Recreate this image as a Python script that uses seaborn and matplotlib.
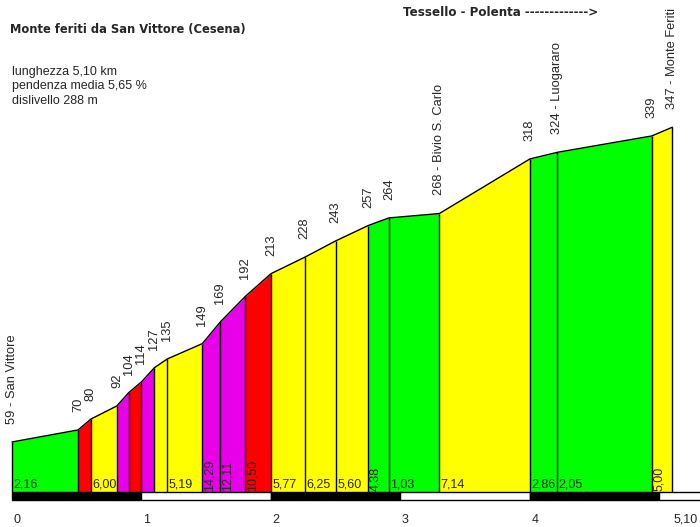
import numpy as np
import pandas as pd
import matplotlib
matplotlib.use("Agg")
import matplotlib.pyplot as plt
import seaborn as sns

# profile points: km from start, altitude (m), place name
km = [0, 0.51, 0.61, 0.81, 0.90, 1.00, 1.10, 1.20, 1.47, 1.61, 1.80, 2.00,
      2.26, 2.50, 2.75, 2.91, 3.30, 4.00, 4.21, 4.94, 5.10]
alt = [59, 70, 80, 92, 104, 114, 127, 135, 149, 169, 192, 213,
       228, 243, 257, 264, 268, 318, 324, 339, 347]
names = ["San Vittore", "", "", "", "", "", "", "", "", "", "", "",
         "", "", "", "", "Bivio S. Carlo", "", "Luogararo", "", "Monte Feriti"]
# gradient (%) of each segment
grade = [2.16, 10.0, 6.00, 13.3, 10.0, 13.0, 8.0, 5.19, 14.29, 12.11, 10.50,
         5.77, 6.25, 5.60, 4.38, 1.03, 7.14, 2.86, 2.05, 5.00]
km_ticks = [0, 1, 2, 3, 4, 5.10]
km_labels = ["0", "1", "2", "3", "4", "5,10"]

title = "Monte feriti da San Vittore (Cesena)"
info = ["lunghezza 5,10 km", "pendenza media 5,65 %", "dislivello 288 m"]
route = "Tessello - Polenta ------------->"

sns.set_theme(style="white")
plt.rcParams['font.family'] = ['Liberation Sans', 'DejaVu Sans']

df = pd.DataFrame({"km": km, "alt": alt})

fig = plt.figure(figsize=(7, 5.27), dpi=100)
ax = fig.add_axes([0, 0, 1, 1])
ax.set_xlim(-0.0927, 5.313)
ax.set_ylim(-18.8, 463.4)
ax.axis("off")

base = 13.3


def colour(g):
    if g < 5:
        return "#00ff00"
    if g < 10:
        return "#ffff00"
    if g < 12:
        return "#ff0000"
    return "#e800e8"


for i, g in enumerate(grade):
    x0, x1 = km[i], km[i + 1]
    ax.fill_between([x0, x1], [alt[i], alt[i + 1]], base, color=colour(g), lw=0)
    w = x1 - x0
    if w > 0.12:
        txt = f"{g:.2f}".replace(".", ",")
        if w < 0.195 or g >= 10:
            ax.annotate(txt, (x0, base), xytext=(1, 1), textcoords="offset points",
                        rotation=90, ha="left", va="bottom", fontsize=9)
        else:
            ax.annotate(txt, (x0, base), xytext=(1, 1), textcoords="offset points",
                        ha="left", va="bottom", fontsize=9)

ax.vlines(km, base, alt, color="black", lw=1)
sns.lineplot(data=df, x="km", y="alt", color="black", lw=1, ax=ax,
             estimator=None, sort=False)

for x, a, n in zip(km, alt, names):
    lab = f"{a} - {n}" if n else f"{a}"
    ax.annotate(lab, (x, a), xytext=(0, 13), textcoords="offset points",
                rotation=90, ha="center", va="bottom", fontsize=9.3)

# km scale bar
for i in range(6):
    fc = "black" if i % 2 == 0 else "white"
    ax.bar(i, base - 6.0, bottom=6.0, width=1, align="edge",
           color=fc, edgecolor="black", lw=1)

for t, l in zip(km_ticks, km_labels):
    ax.annotate(l, (t, -12.2), xytext=(1, 0), textcoords="offset points",
                ha="left", va="center", fontsize=9)

fig.text(10 / 700, 1 - 30 / 527, title, fontsize=8.3, fontweight="bold",
         family="DejaVu Sans", va="center")
for j, line in enumerate(info):
    fig.text(12 / 700, 1 - (72 + 14.3 * j) / 527, line, fontsize=9, va="center")
fig.text(403 / 700, 1 - 13 / 527, route, fontsize=8.6, fontweight="bold",
         family="DejaVu Sans", va="center")

fig.savefig("out.png", dpi=100)
